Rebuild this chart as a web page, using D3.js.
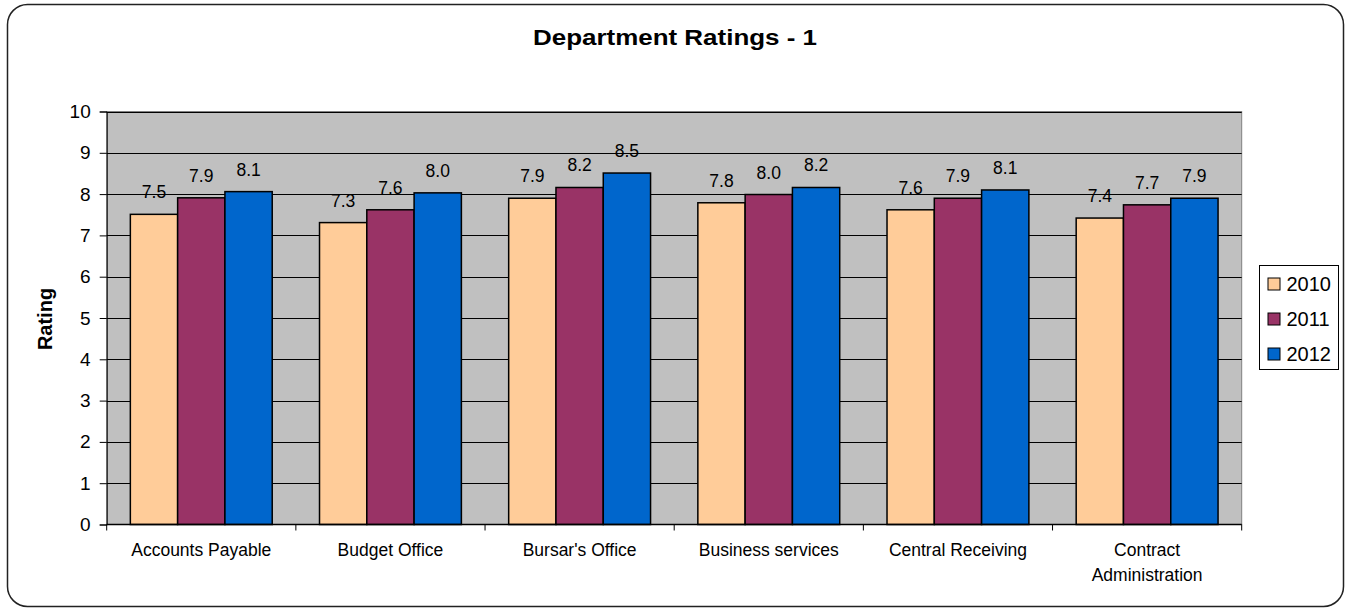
<!DOCTYPE html>
<html>
<head>
<meta charset="utf-8">
<script src="https://cdn.jsdelivr.net/npm/d3@7"></script>
<style>
  html, body { margin: 0; padding: 0; background: #fff; }
  svg { display: block; font-family: "Liberation Sans", Arial, sans-serif; }
</style>
</head>
<body>
<svg id="chart" width="1346" height="609"></svg>
<script>
// ---- data ----
const categories = ["Accounts Payable", "Budget Office", "Bursar's Office", "Business services", "Central Receiving", "Contract Administration"];
const seriesNames = ["2010", "2011", "2012"];
const values2010 = [7.51, 7.31, 7.90, 7.79, 7.62, 7.42];
const values2011 = [7.91, 7.62, 8.16, 7.99, 7.90, 7.74];
const values2012 = [8.06, 8.03, 8.51, 8.16, 8.10, 7.90];
const yTicks = [0, 1, 2, 3, 4, 5, 6, 7, 8, 9, 10];
const colors = ["#FFCC99", "#993366", "#0066CC"];
const titleText = "Department Ratings - 1";
const yTitle = "Rating";

const seriesValues = [values2010, values2011, values2012];
const table = categories.map((c, i) => ({
  cat: c,
  vals: seriesNames.map((s, j) => ({ key: s, value: seriesValues[j][i], color: colors[j] }))
}));

// ---- layout ----
const svg = d3.select("#chart");
const W = 1346, H = 609;
const plot = { left: 106.7, right: 1241.7, top: 111.5, bottom: 524.5 };

svg.append("rect").attr("width", W).attr("height", H).attr("fill", "#fff");

// outer rounded border
svg.append("rect")
  .attr("x", 7.5).attr("y", 4.5)
  .attr("width", 1336).attr("height", 602)
  .attr("rx", 20).attr("ry", 20)
  .attr("fill", "none").attr("stroke", "#222").attr("stroke-width", 1.5);

const x = d3.scaleBand().domain(categories).range([plot.left, plot.right])
  .paddingInner(0.25).paddingOuter(0.125);
const xs = d3.scaleBand().domain(seriesNames).range([0, x.bandwidth()]).padding(0);
const y = d3.scaleLinear().domain([0, 10]).range([plot.bottom, plot.top]);

// plot background
svg.append("rect")
  .attr("x", plot.left).attr("y", plot.top)
  .attr("width", plot.right - plot.left).attr("height", plot.bottom - plot.top)
  .attr("fill", "#C0C0C0").attr("stroke", "#808080").attr("stroke-width", 1);

// gridlines
svg.append("g").selectAll("line").data(yTicks.filter(t => t > 0)).join("line")
  .attr("x1", plot.left).attr("x2", plot.right)
  .attr("y1", d => Math.round(y(d)) + 0.5).attr("y2", d => Math.round(y(d)) + 0.5)
  .attr("stroke", "#000").attr("stroke-width", 1);

// y axis
const yAxis = d3.axisLeft(y).tickValues(yTicks).tickSize(7).tickPadding(9).tickFormat(d3.format("d"));
const yg = svg.append("g").attr("transform", `translate(${plot.left},0)`).call(yAxis);
yg.select(".domain").attr("stroke", "#000");
yg.selectAll(".tick line").attr("stroke", "#000");
yg.selectAll(".tick text").attr("font-size", 19).attr("fill", "#000")
  .attr("font-family", "Liberation Sans, Arial, sans-serif");

// bars
const groups = svg.append("g").selectAll("g").data(table).join("g")
  .attr("transform", d => `translate(${x(d.cat)},0)`);
groups.selectAll("rect").data(d => d.vals).join("rect")
  .attr("x", d => xs(d.key))
  .attr("y", d => y(d.value))
  .attr("width", xs.bandwidth())
  .attr("height", d => y(0) - y(d.value))
  .attr("fill", d => d.color)
  .attr("stroke", "#000").attr("stroke-width", 1.5);

// data labels
groups.selectAll("text").data(d => d.vals).join("text")
  .attr("x", d => xs(d.key) + xs.bandwidth() / 2)
  .attr("y", d => y(d.value) - 16)
  .attr("text-anchor", "middle")
  .attr("font-size", 17.5)
  .attr("fill", "#000")
  .text(d => d3.format(".1f")(d.value));

// x axis line and boundary ticks
svg.append("line")
  .attr("x1", plot.left).attr("x2", plot.right)
  .attr("y1", plot.bottom).attr("y2", plot.bottom)
  .attr("stroke", "#000").attr("stroke-width", 1.5);
const boundaries = categories.map(c => x(c) - x.step() * x.paddingOuter()).concat([plot.right]);
svg.append("g").selectAll("line").data(boundaries).join("line")
  .attr("x1", d => d).attr("x2", d => d)
  .attr("y1", plot.bottom).attr("y2", plot.bottom + 6)
  .attr("stroke", "#000").attr("stroke-width", 1);

// category labels with wrapping
const xLabels = svg.append("g").selectAll("text").data(categories).join("text")
  .attr("x", d => x(d) + x.bandwidth() / 2)
  .attr("y", 556)
  .attr("text-anchor", "middle")
  .attr("font-size", 17.5)
  .attr("fill", "#000");
xLabels.each(function(d) {
  const t = d3.select(this);
  const words = d.split(" ");
  let line = [], lines = [];
  const probe = t.append("tspan");
  words.forEach(w => {
    const test = line.concat([w]).join(" ");
    probe.text(test);
    if (probe.node().getComputedTextLength() > 170 && line.length) {
      lines.push(line.join(" "));
      line = [w];
    } else {
      line.push(w);
    }
  });
  lines.push(line.join(" "));
  probe.remove();
  lines.forEach((ln, i) => {
    t.append("tspan").attr("x", x(d) + x.bandwidth() / 2).attr("dy", i === 0 ? 0 : 24.5).text(ln);
  });
});

// title
svg.append("text")
  .attr("x", 675).attr("y", 45)
  .attr("text-anchor", "middle")
  .attr("font-size", 21.5).attr("font-weight", "bold")
  .attr("textLength", 284).attr("lengthAdjust", "spacingAndGlyphs")
  .attr("fill", "#000")
  .text(titleText);

// y title
svg.append("text")
  .attr("transform", "translate(51.5,319) rotate(-90)")
  .attr("text-anchor", "middle")
  .attr("font-size", 20).attr("font-weight", "bold")
  .attr("fill", "#000")
  .text(yTitle);

// legend
const legend = svg.append("g");
legend.append("rect")
  .attr("x", 1259.5).attr("y", 265.5).attr("width", 79).attr("height", 104)
  .attr("fill", "#fff").attr("stroke", "#000").attr("stroke-width", 1);
const items = legend.selectAll("g").data(seriesNames).join("g")
  .attr("transform", (d, i) => `translate(0,${284 + i * 35})`);
items.append("rect")
  .attr("x", 1268).attr("y", -6).attr("width", 12).attr("height", 12)
  .attr("fill", (d, i) => colors[i]).attr("stroke", "#000").attr("stroke-width", 1);
items.append("text")
  .attr("x", 1286.5).attr("y", 0).attr("dy", "0.35em")
  .attr("font-size", 20).attr("fill", "#000")
  .text(d => d);
</script>
</body>
</html>
